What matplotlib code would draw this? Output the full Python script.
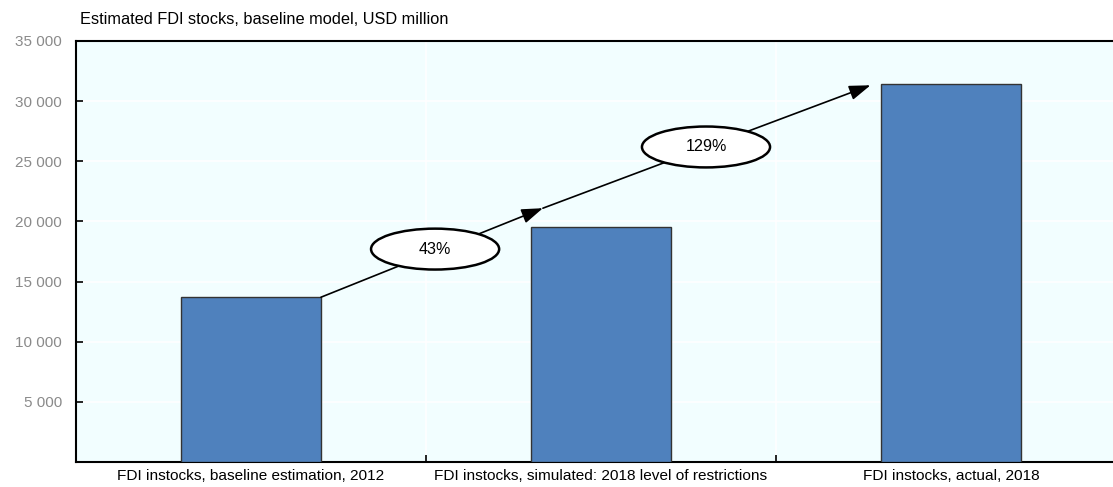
import numpy as np
import matplotlib
matplotlib.use('Agg')
import matplotlib.pyplot as plt
from matplotlib.patches import Ellipse
from matplotlib.ticker import FuncFormatter

plt.rcParams['font.family'] = ['Liberation Sans', 'DejaVu Sans']

# Data
categories = ['FDI instocks, baseline estimation, 2012',
              'FDI instocks, simulated: 2018 level of restrictions',
              'FDI instocks, actual, 2018']
values = [13700, 19550, 31400]
labels = ['43%', '129%']
title = 'Estimated FDI stocks, baseline model, USD million'

fig = plt.figure(figsize=(11.13, 4.87), dpi=100)
ax = fig.add_axes([76/1113, 25/487, 1050/1113, 421/487])
ax.set_facecolor('#f2feff')

x = np.arange(len(categories))
w = 0.4
ax.bar(x, values, width=w, color='#4f81bd', edgecolor='#333333', linewidth=1, zorder=3)

ax.set_xlim(-0.5, 2.5)
ax.set_ylim(0, 35000)
ax.set_yticks(np.arange(5000, 35001, 5000))
ax.yaxis.set_major_formatter(FuncFormatter(lambda v, p: '{:,.0f}'.format(v).replace(',', ' ')))
ax.set_xticks(x)
ax.set_xticklabels(categories, fontsize=11.1)
ax.set_xticks([0.5, 1.5], minor=True)
ax.tick_params(axis='x', which='major', length=0, pad=5)
ax.tick_params(axis='x', which='minor', direction='in', length=5, width=1.2)
ax.tick_params(axis='y', direction='in', length=5, width=1.2, labelsize=11,
               labelcolor='#8a8a8a', pad=10)

# white gridlines
ax.grid(axis='y', color='white', linewidth=1.2, zorder=0)
ax.grid(axis='x', which='minor', color='white', linewidth=1.2, zorder=0)
ax.set_axisbelow(True)

for s in ax.spines.values():
    s.set_linewidth(1.5)
    s.set_color('black')

# arrows chained from bar 1 top to bar 3 top
p0 = (x[0] + w/2, values[0])
p1 = (0.834, 21100)
p2 = (x[2] - w/2 - 0.03, values[2] - 80)
for a, b in [(p0, p1), (p1, p2)]:
    ax.annotate('', xy=b, xytext=a,
                arrowprops=dict(arrowstyle='-|>,head_length=1.3,head_width=0.45',
                                color='black', lw=1.2, shrinkA=0, shrinkB=0),
                zorder=4)

# ellipses with percentages
centers = [(0.526, 17700), (1.3, 26190)]
for (cx, cy), lab in zip(centers, labels):
    ax.add_patch(Ellipse((cx, cy), 0.366, 3400, facecolor='white',
                         edgecolor='black', linewidth=1.8, zorder=5))
    ax.text(cx, cy, lab, ha='center', va='center', fontsize=11.6, zorder=6)

fig.text(80/1113, 1 - 20/487, title, ha='left', va='center', fontsize=11.8)

fig.savefig('out.png', dpi=100)
